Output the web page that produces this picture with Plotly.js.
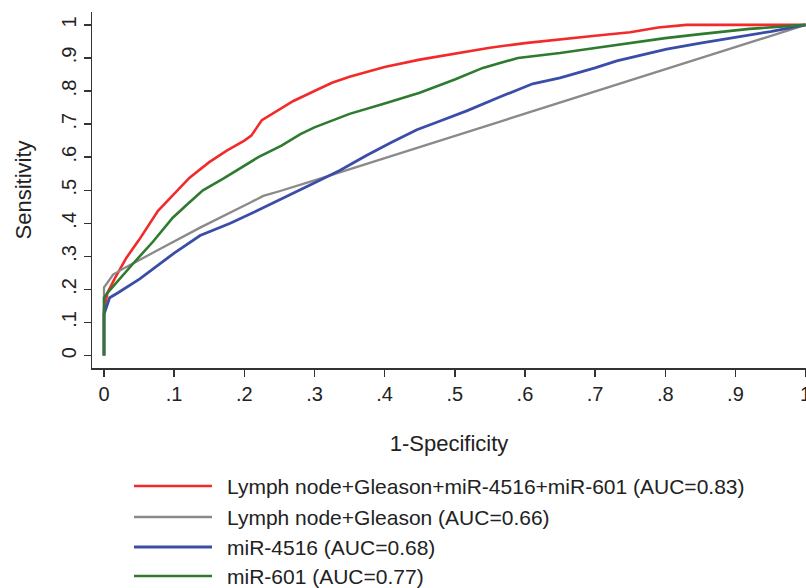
<!DOCTYPE html>
<html>
<head>
<meta charset="utf-8">
<script src="https://cdn.plot.ly/plotly-3.0.1.min.js"></script>
<style>html,body{margin:0;padding:0;background:#fff;}#chart{width:806px;height:588px;}</style>
</head>
<body>
<div id="chart"></div>
<script>
// ---- data ----
var seriesNames = [
  "Lymph node+Gleason+miR-4516+miR-601 (AUC=0.83)",
  "Lymph node+Gleason (AUC=0.66)",
  "miR-4516 (AUC=0.68)",
  "miR-601 (AUC=0.77)"
];
var comboX = [0, 0, 0.005, 0.016, 0.032, 0.05, 0.077, 0.1, 0.122, 0.15, 0.175, 0.2, 0.21, 0.225, 0.25, 0.27, 0.3, 0.325, 0.35, 0.4, 0.45, 0.5, 0.55, 0.6, 0.65, 0.7, 0.75, 0.79, 0.83, 1];
var comboY = [0, 0.14, 0.19, 0.236, 0.296, 0.35, 0.438, 0.49, 0.538, 0.585, 0.62, 0.65, 0.665, 0.712, 0.745, 0.77, 0.8, 0.825, 0.843, 0.873, 0.895, 0.914, 0.931, 0.945, 0.957, 0.967, 0.978, 0.992, 1, 1];
var clinX = [0, 0, 0.013, 0.03, 0.075, 0.137, 0.208, 0.227, 0.25, 0.3, 1];
var clinY = [0, 0.206, 0.245, 0.266, 0.317, 0.387, 0.462, 0.483, 0.497, 0.53, 1];
var mir4516X = [0, 0, 0.008, 0.02, 0.051, 0.1, 0.137, 0.18, 0.218, 0.26, 0.293, 0.336, 0.374, 0.41, 0.446, 0.48, 0.517, 0.564, 0.611, 0.65, 0.7, 0.731, 0.802, 0.85, 0.896, 0.95, 1];
var mir4516Y = [0, 0.125, 0.175, 0.19, 0.232, 0.31, 0.363, 0.4, 0.438, 0.48, 0.515, 0.56, 0.605, 0.645, 0.683, 0.71, 0.74, 0.782, 0.822, 0.84, 0.87, 0.891, 0.927, 0.945, 0.961, 0.98, 1];
var mir601X = [0, 0, 0.005, 0.013, 0.041, 0.07, 0.098, 0.12, 0.141, 0.17, 0.194, 0.22, 0.253, 0.28, 0.3, 0.35, 0.4, 0.45, 0.5, 0.54, 0.59, 0.65, 0.7, 0.754, 0.8, 0.85, 0.92, 1];
var mir601Y = [0, 0.175, 0.19, 0.21, 0.277, 0.345, 0.417, 0.46, 0.5, 0.535, 0.565, 0.6, 0.635, 0.67, 0.69, 0.731, 0.762, 0.795, 0.835, 0.87, 0.9, 0.915, 0.93, 0.946, 0.96, 0.972, 0.988, 1];
var tickVals = [0, 0.1, 0.2, 0.3, 0.4, 0.5, 0.6, 0.7, 0.8, 0.9, 1];
var tickText = ["0", ".1", ".2", ".3", ".4", ".5", ".6", ".7", ".8", ".9", "1"];

// ---- styles ----
var colors = ["#f22a2a", "#8a8a8a", "#3a4ea8", "#2e7b30"];
var widths = [2.6, 2.3, 2.8, 2.6];
var xs = [comboX, clinX, mir4516X, mir601X];
var ys = [comboY, clinY, mir4516Y, mir601Y];

var traces = xs.map(function (x, i) {
  return {
    type: "scatter", mode: "lines", x: x, y: ys[i], name: seriesNames[i],
    line: {color: colors[i], width: widths[i]}, showlegend: false, cliponaxis: true
  };
});

var M = {l: 92, r: 0, t: 12, b: 220};
var W = 806, H = 588;
var pw = W - M.l - M.r, ph = H - M.t - M.b;
function px2x(px) { return (px - M.l) / pw; }
function py2y(py) { return (H - M.b - py) / ph; }

var legendRows = [486, 517, 547, 576];
var shapes = [], annotations = [];
legendRows.forEach(function (py, i) {
  shapes.push({type: "line", xref: "paper", yref: "paper",
    x0: px2x(134), x1: px2x(212), y0: py2y(py), y1: py2y(py),
    line: {color: colors[i], width: widths[i]}});
  annotations.push({xref: "paper", yref: "paper", x: px2x(225), y: py2y(py),
    xanchor: "left", yanchor: "middle", showarrow: false, text: seriesNames[i],
    font: {family: "Liberation Sans, Arial, sans-serif", size: 21, color: "#222"}});
});

var axisCommon = {
  showgrid: false, zeroline: false, showline: true, linecolor: "#333", linewidth: 1.5,
  ticks: "outside", ticklen: 7, tickwidth: 1.5, tickcolor: "#333",
  tickmode: "array", tickvals: tickVals, ticktext: tickText,
  ticklabeloverflow: "allow",
  tickfont: {family: "Liberation Sans, Arial, sans-serif", size: 20, color: "#222"}
};

var layout = {
  width: W, height: H, margin: M,
  paper_bgcolor: "#fff", plot_bgcolor: "#fff",
  xaxis: Object.assign({}, axisCommon, {
    range: [-0.0171, 1.0006],
    title: {text: "1-Specificity", standoff: 32,
      font: {family: "Liberation Sans, Arial, sans-serif", size: 22, color: "#222"}}
  }),
  yaxis: Object.assign({}, axisCommon, {
    range: [-0.0375, 1.039], tickangle: -90,
    title: {text: "Sensitivity", standoff: 20,
      font: {family: "Liberation Sans, Arial, sans-serif", size: 22, color: "#222"}}
  }),
  shapes: shapes, annotations: annotations, showlegend: false
};

Plotly.newPlot("chart", traces, layout, {displayModeBar: false, staticPlot: true});
</script>
</body>
</html>
